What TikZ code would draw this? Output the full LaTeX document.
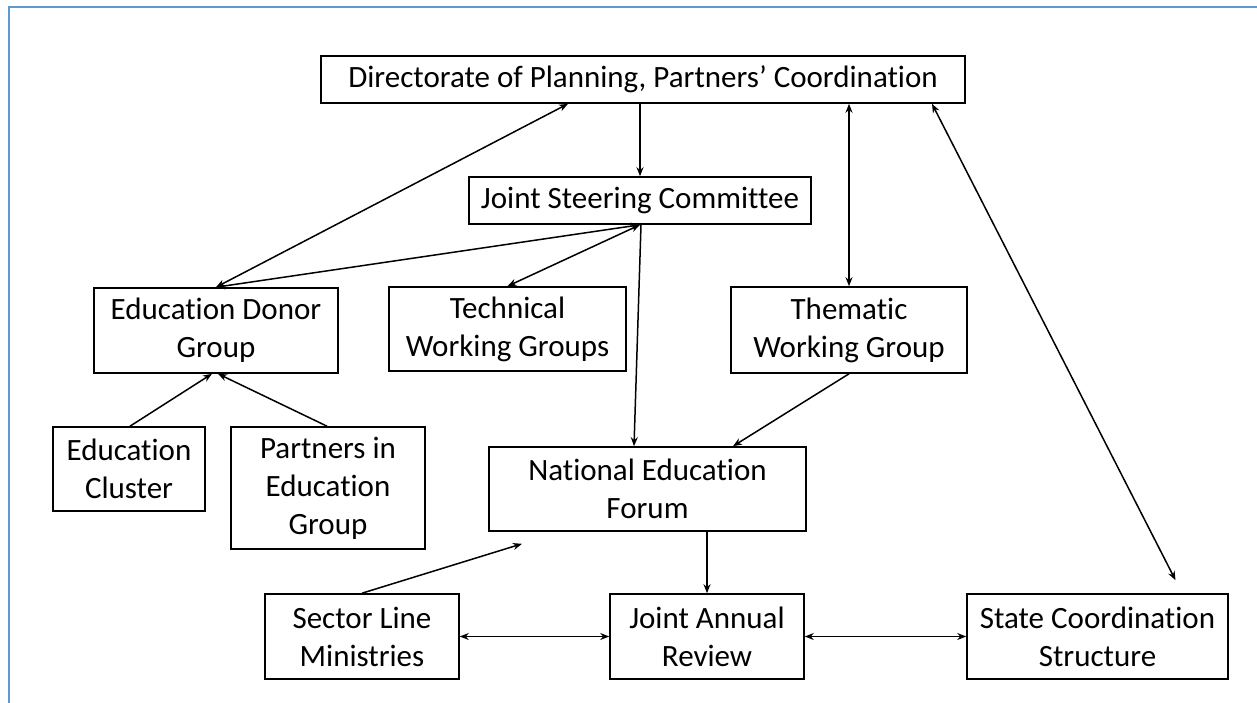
\documentclass[tikz,border=0pt]{standalone}
\usepackage{fontspec}
\setmainfont{Carlito}[Ligatures=NoCommon]
\usetikzlibrary{arrows.meta}
\definecolor{frameblue}{RGB}{91,155,213}
\begin{document}
\begin{tikzpicture}[x=1pt,y=-1pt,
  box/.style={draw=black,line width=1.6pt,inner sep=0pt,align=center,
    font=\fontsize{31}{38}\selectfont},
  conn/.style={line width=1.5pt,-{Stealth[length=9pt,width=7pt]}},
  biconn/.style={line width=1.5pt,{Stealth[length=9pt,width=7pt]}-{Stealth[length=9pt,width=7pt]}},
  frame/.style={draw=frameblue,line width=2.2pt}]
\useasboundingbox (0,0) rectangle (1257,703);
\draw[frame] (9,703) -- (9,7) -- (1257,7);

\node[box,minimum width=644pt,minimum height=47pt] (dir) at (643,79.5) {Directorate of Planning, Partners’ Coordination};
\node[box,minimum width=342pt,minimum height=47pt] (jsc) at (640,200.5) {Joint Steering Committee};
\node[box,minimum width=244pt,minimum height=85pt] (edg) at (216,330.5) {Education Donor\\Group};
\node[box,minimum width=237pt,minimum height=84pt] (twg) at (507.5,329) {Technical\\Working Groups};
\node[box,minimum width=236pt,minimum height=86pt] (them) at (849,330) {Thematic\\Working Group};
\node[box,minimum width=152pt,minimum height=84pt] (ec) at (129,469) {Education\\Cluster};
\node[box,minimum width=194pt,minimum height=122pt] (peg) at (328,488) {Partners in\\Education\\Group};
\node[box,minimum width=317pt,minimum height=84pt] (nef) at (647.5,489) {National Education\\Forum};
\node[box,minimum width=194pt,minimum height=85pt] (sl) at (362,636.5) {Sector Line\\Ministries};
\node[box,minimum width=194pt,minimum height=85pt] (jar) at (707,636.5) {Joint Annual\\Review};
\node[box,minimum width=261pt,minimum height=85pt] (state) at (1097.5,636.5) {State Coordination\\Structure};

\coordinate (stateend) at ([xshift=78pt,yshift=13pt]state.north);
\coordinate (slend) at ([xshift=-125.5pt,yshift=-12pt]nef.south);

\draw[biconn] ([xshift=-75pt]dir.south) -- (edg.north);
\draw[conn] (dir.south -| jsc.north) -- (jsc.north);
\draw[biconn] (jsc.south) -- (edg.north);
\draw[biconn] (jsc.south) -- (twg.north);
\draw[conn] ([xshift=1pt]jsc.south) -- ([xshift=-13.5pt]nef.north);
\draw[biconn] (them.north |- dir.south) -- (them.north);
\draw[conn] (them.south) -- ([xshift=85.5pt]nef.north);
\draw[biconn] ([xshift=289pt]dir.south) -- (stateend);
\draw[conn] ([xshift=1pt]ec.north) -- ([xshift=-4pt]edg.south);
\draw[conn] ([xshift=-1pt]peg.north) -- ([xshift=2pt]edg.south);
\draw[conn] (sl.north) -- (slend);
\draw[conn] (nef.south -| jar.north) -- (jar.north);
\draw[biconn] (sl.east) -- (jar.west);
\draw[biconn] (jar.east) -- (state.west);
\end{tikzpicture}
\end{document}
